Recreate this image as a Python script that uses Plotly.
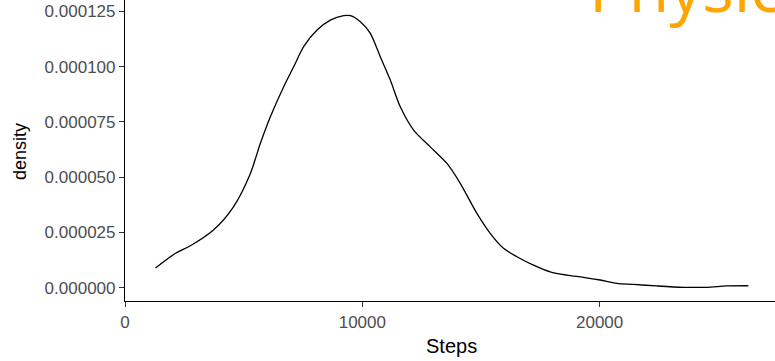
import plotly.graph_objects as go

steps = [1284, 2130, 2758, 3726, 4570, 5284, 5705, 6126, 6688, 7107, 7528, 8091, 8653, 9213,
         9495, 9916, 10337, 10758, 11179, 11600, 12160, 12863, 13566, 14126, 14829, 15389,
         15950, 16513, 17213, 17916, 18619, 19318, 20021, 20724, 21423, 22408, 23528, 24513,
         25356, 26265]
density = [0.0000089, 0.0000156, 0.0000190, 0.0000261, 0.0000366, 0.0000517, 0.0000653,
           0.0000773, 0.0000909, 0.0000999, 0.0001090, 0.0001165, 0.0001210, 0.0001230,
           0.0001230, 0.0001203, 0.0001150, 0.0001044, 0.0000939, 0.0000818, 0.0000713,
           0.0000637, 0.0000562, 0.0000472, 0.0000336, 0.0000246, 0.0000178, 0.0000140,
           0.0000102, 0.0000072, 0.0000057, 0.0000047, 0.0000035, 0.0000020, 0.0000015,
           0.0000008, 0.0000002, 0.0000002, 0.0000008, 0.0000009]

x_ticks = [0, 10000, 20000]
y_ticks = [0.0, 0.000025, 0.00005, 0.000075, 0.0001, 0.000125]
y_tick_labels = ["0.000000", "0.000025", "0.000050", "0.000075", "0.000100", "0.000125"]

W, H = 775, 361
L, B = 125, 60

fig = go.Figure()
fig.add_trace(go.Scatter(x=steps, y=density, mode="lines",
                         line=dict(color="black", width=1.3, shape="spline", smoothing=0.8),
                         showlegend=False, hoverinfo="skip"))

axis_font = dict(family="Liberation Sans, Arial", size=17, color="#4D4D4D")
fig.update_layout(
    width=W, height=H,
    margin=dict(l=L, r=0, t=0, b=B),
    paper_bgcolor="white", plot_bgcolor="white",
    xaxis=dict(range=[0, 27389], tickvals=x_ticks, ticktext=[str(v) for v in x_ticks],
               showgrid=False, zeroline=False, showline=True, linecolor="black", linewidth=1.2,
               ticks="outside", ticklen=5, tickcolor="#333333", tickwidth=1.2, tickfont=axis_font,
               automargin=False),
    yaxis=dict(range=[-0.0000060, 0.0001301], tickvals=y_ticks, ticktext=y_tick_labels,
               showgrid=False, zeroline=False, showline=True, linecolor="black", linewidth=1.2,
               ticks="outside", ticklen=5, tickcolor="#333333", tickwidth=1.2, tickfont=axis_font,
               automargin=False),
)
fig.add_annotation(text="Steps", xref="paper", yref="paper",
                   x=(451.5 - L) / (W - L), y=-(346 - (H - B)) / (H - B),
                   xanchor="center", yanchor="middle", showarrow=False,
                   font=dict(family="Liberation Sans, Arial", size=20, color="black"))
fig.add_annotation(text="density", xref="paper", yref="paper", textangle=-90,
                   x=(20 - L) / (W - L), y=1 - 152 / (H - B),
                   xanchor="center", yanchor="middle", showarrow=False,
                   font=dict(family="Liberation Sans, Arial", size=18, color="black"))
fig.add_annotation(text="Physic", xref="paper", yref="paper", x=(587 - L) / (W - L), y=1.0,
                   xanchor="left", yanchor="middle", yshift=14, showarrow=False,
                   font=dict(family="Open Sans", size=66, color="#FFA500"))
fig.write_html("out.html", config={"displayModeBar": False},
               post_script="document.body.style.margin='0';document.body.style.overflow='hidden';")
